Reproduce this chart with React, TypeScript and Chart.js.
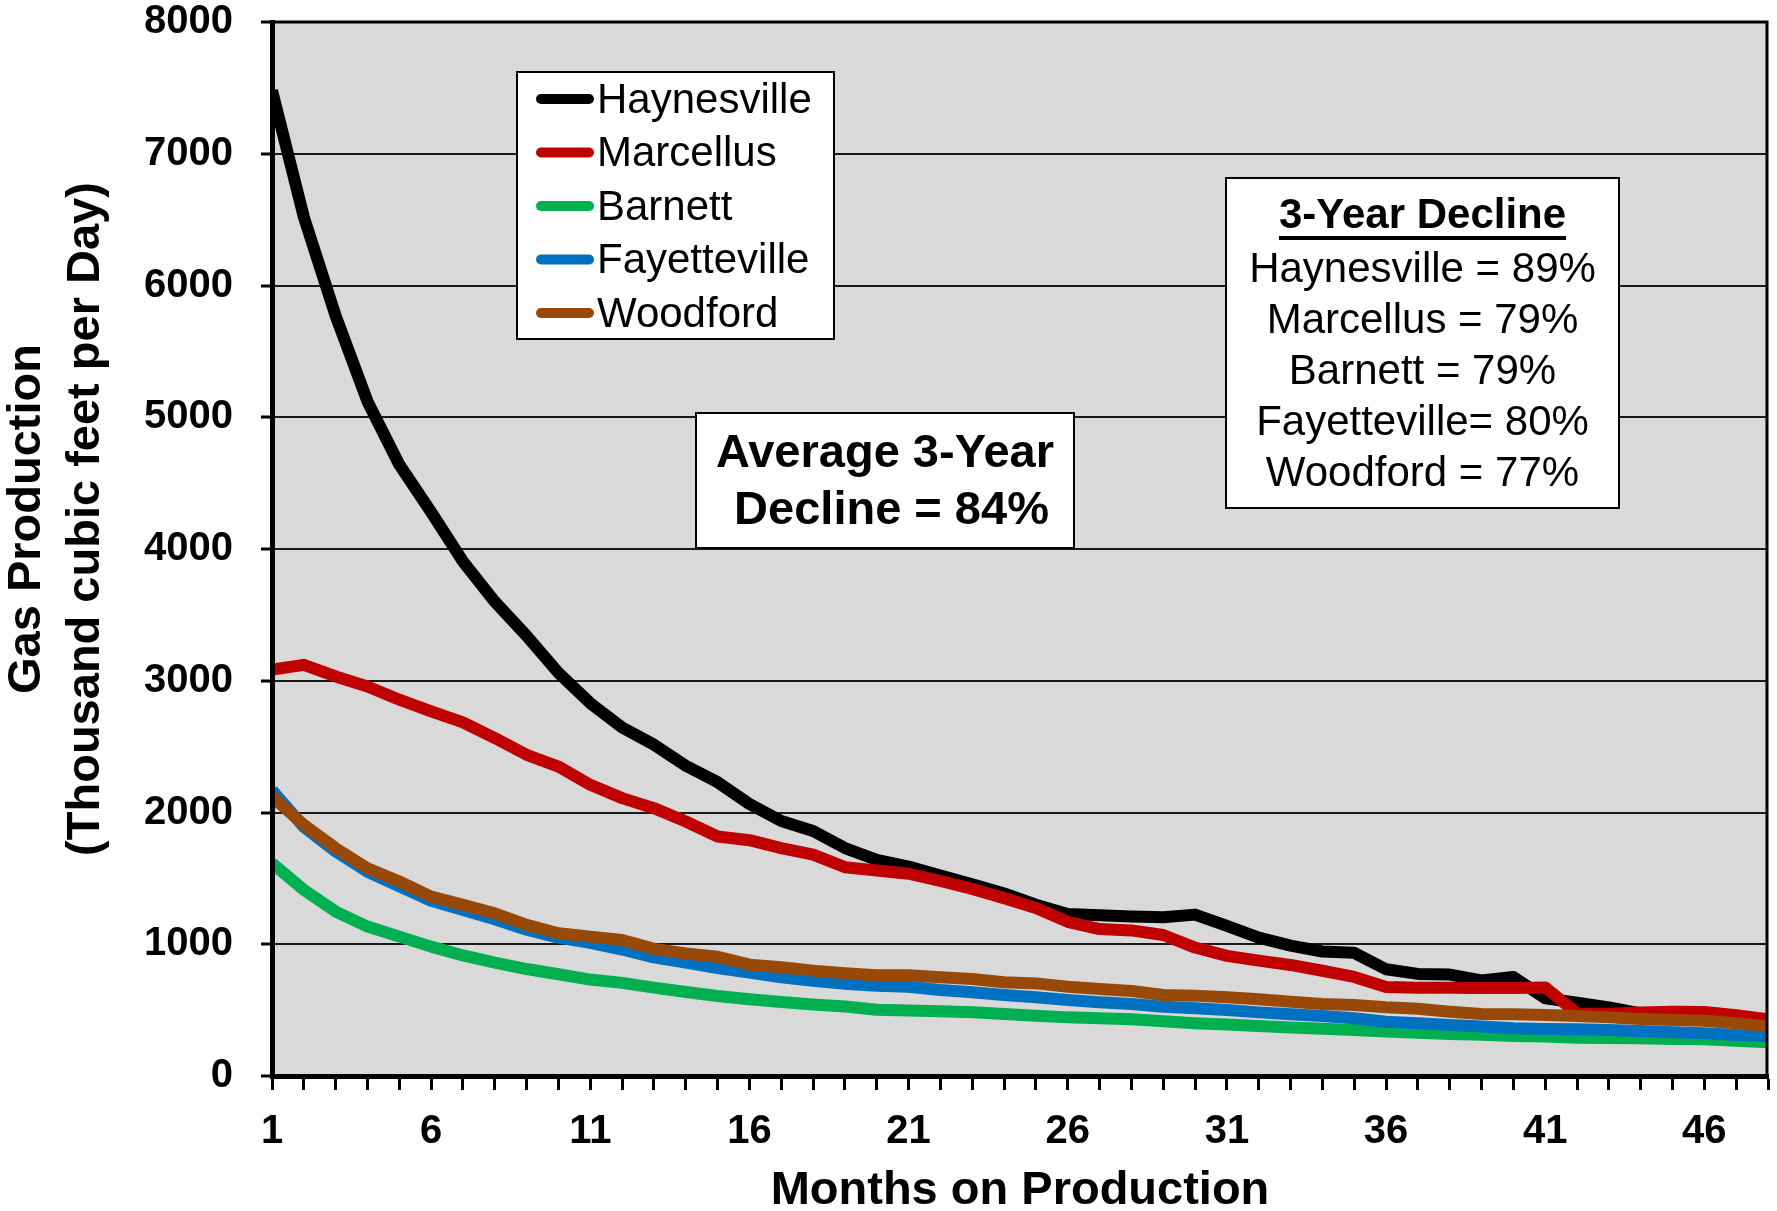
import React, { useEffect, useRef } from 'react';
import { Chart, registerables } from 'chart.js';

Chart.register(...registerables);

const FONT = "'Liberation Sans', Arial, Helvetica, sans-serif";

const months = [
  '1', '2', '3', '4', '5', '6', '7', '8', '9', '10',
  '11', '12', '13', '14', '15', '16', '17', '18', '19', '20',
  '21', '22', '23', '24', '25', '26', '27', '28', '29', '30',
  '31', '32', '33', '34', '35', '36', '37', '38', '39', '40',
  '41', '42', '43', '44', '45', '46', '47', '48',
];
const labeledMonths = ['1', '6', '11', '16', '21', '26', '31', '36', '41', '46'];

const seriesNames = ['Haynesville', 'Marcellus', 'Barnett', 'Fayetteville', 'Woodford'];
const seriesColors = ['#000000', '#C00000', '#00B050', '#0070C0', '#984807'];

const haynesville = [
  7480, 6520, 5770, 5120, 4640, 4280, 3905, 3600, 3340, 3060,
  2830, 2645, 2515, 2355, 2230, 2065, 1935, 1860, 1730, 1640,
  1590, 1521, 1456, 1385, 1300, 1230, 1220, 1210, 1205, 1225,
  1140, 1050, 990, 945, 935, 810, 775, 770, 725, 752,
  590, 557, 520, 475, 455, 440, 425, 400,
];
const marcellus = [
  3084, 3121, 3033, 2957, 2856, 2767, 2684, 2565, 2438, 2349,
  2210, 2109, 2033, 1932, 1818, 1790, 1730, 1680, 1585, 1560,
  1535, 1480, 1420, 1350, 1275, 1170, 1115, 1105, 1070, 975,
  912, 876, 843, 799, 752, 675, 670, 670, 668, 668,
  672, 475, 472, 482, 488, 486, 462, 430,
];
const barnett = [
  1615, 1413, 1248, 1134, 1058, 982, 915, 860, 812, 772,
  732, 707, 671, 638, 607, 582, 561, 543, 528, 503,
  498, 492, 483, 470, 458, 445, 438, 430, 415, 400,
  390, 380, 369, 359, 349, 337, 329, 319, 314, 304,
  299, 291, 288, 286, 281, 278, 268, 256,
];
const fayetteville = [
  2170, 1890, 1705, 1550, 1440, 1330, 1260, 1190, 1110, 1050,
  1010, 960, 900, 860, 820, 785, 750, 722, 700, 685,
  678, 653, 635, 615, 597, 577, 560, 546, 526, 514,
  501, 483, 468, 455, 438, 412, 400, 387, 375, 362,
  357, 354, 349, 342, 332, 324, 311, 304,
];
const woodford = [
  2122, 1906, 1729, 1577, 1476, 1362, 1299, 1235, 1147, 1084,
  1058, 1033, 965, 930, 905, 845, 825, 800, 780, 765,
  765, 749, 736, 711, 703, 678, 660, 645, 615, 610,
  597, 582, 564, 546, 539, 521, 511, 488, 470, 468,
  463, 455, 445, 433, 425, 420, 400, 375,
];
const seriesValues = [haynesville, marcellus, barnett, fayetteville, woodford];

const yTitleLines = ['Gas Production', '(Thousand cubic feet per Day)'];
const xTitle = 'Months on Production';
const averageBoxLines = ['Average 3-Year', ' Decline = 84%'];
const declineTitle = '3-Year Decline';
const declineLines = [
  'Haynesville = 89%',
  'Marcellus = 79%',
  'Barnett = 79%',
  'Fayetteville= 80%',
  'Woodford = 77%',
];

function drawBox(ctx: CanvasRenderingContext2D, x: number, y: number, w: number, h: number) {
  ctx.fillStyle = '#ffffff';
  ctx.fillRect(x, y, w, h);
  ctx.strokeStyle = '#000000';
  ctx.lineWidth = 2;
  ctx.strokeRect(x, y, w, h);
}

const decorPlugin = {
  id: 'decor',
  beforeDraw(chart: any) {
    const { ctx, chartArea: a, width, height } = chart;
    ctx.save();
    ctx.fillStyle = '#ffffff';
    ctx.fillRect(0, 0, width, height);
    ctx.fillStyle = '#D9D9D9';
    ctx.fillRect(a.left, a.top, a.right - a.left, a.bottom - a.top);
    ctx.restore();
  },
  afterDraw(chart: any) {
    const { ctx, chartArea: a } = chart;
    ctx.save();
    // right and top frame
    ctx.strokeStyle = '#000000';
    ctx.lineWidth = 3;
    ctx.beginPath();
    ctx.moveTo(a.left, a.top);
    ctx.lineTo(a.right - 1, a.top);
    ctx.lineTo(a.right - 1, a.bottom);
    ctx.stroke();

    // y axis title (two lines, rotated)
    ctx.fillStyle = '#000000';
    ctx.font = `bold 47px ${FONT}`;
    ctx.textAlign = 'center';
    ctx.textBaseline = 'middle';
    const yc = a.top + 497;
    [27, 86].forEach((x, i) => {
      ctx.save();
      ctx.translate(x, yc);
      ctx.rotate(-Math.PI / 2);
      ctx.fillText(yTitleLines[i], 0, 0);
      ctx.restore();
    });

    // legend
    const LL = a.left + 245;
    const LT = a.top + 50;
    drawBox(ctx, LL, LT, 317, 267);
    chart.data.datasets.forEach((ds: any, i: number) => {
      const cy = LT + 27 + i * 53.5;
      ctx.strokeStyle = ds.borderColor;
      ctx.lineWidth = 10;
      ctx.lineCap = 'round';
      ctx.beginPath();
      ctx.moveTo(LL + 24, cy);
      ctx.lineTo(LL + 72, cy);
      ctx.stroke();
      ctx.fillStyle = '#000000';
      ctx.font = `42px ${FONT}`;
      ctx.textAlign = 'left';
      ctx.textBaseline = 'middle';
      ctx.fillText(ds.label, LL + 80, cy + 2);
    });

    // average box
    const AL = a.left + 424;
    const AT = a.top + 391;
    const AW = 378;
    drawBox(ctx, AL, AT, AW, 135);
    ctx.fillStyle = '#000000';
    ctx.font = `bold 47px ${FONT}`;
    ctx.textAlign = 'center';
    ctx.textBaseline = 'middle';
    ctx.fillText(averageBoxLines[0], AL + AW / 2, AT + 41);
    ctx.fillText(averageBoxLines[1], AL + AW / 2, AT + 98);

    // 3-year decline box
    const DL = a.left + 954;
    const DT = a.top + 156;
    const DW = 393;
    drawBox(ctx, DL, DT, DW, 330);
    const cx = DL + DW / 2;
    ctx.fillStyle = '#000000';
    ctx.font = `bold 42px ${FONT}`;
    ctx.textAlign = 'center';
    ctx.textBaseline = 'middle';
    ctx.fillText(declineTitle, cx, DT + 38);
    const tw = ctx.measureText(declineTitle).width;
    ctx.fillRect(cx - tw / 2, DT + 58, tw, 4);
    ctx.font = `42px ${FONT}`;
    declineLines.forEach((t, i) => {
      ctx.fillText(t, cx, DT + 92 + i * 51);
    });
    ctx.restore();
  },
};

export default function App() {
  const canvasRef = useRef<HTMLCanvasElement | null>(null);

  useEffect(() => {
    document.body.style.margin = '0';
    const canvas = canvasRef.current;
    if (!canvas) return;
    const tickFont = { family: FONT, size: 40, weight: 'bold' as const, lineHeight: 1 };
    const chart = new Chart(canvas, {
      type: 'line',
      data: {
        labels: months,
        datasets: seriesNames.map((name, i) => ({
          label: name,
          data: seriesValues[i],
          borderColor: seriesColors[i],
          backgroundColor: seriesColors[i],
          borderWidth: 12,
          pointRadius: 0,
          tension: 0,
          fill: false,
          borderJoinStyle: 'round' as const,
          borderCapStyle: 'butt' as const,
          order: seriesNames.length - i,
          clip: 0,
        })),
      },
      options: {
        responsive: false,
        animation: false,
        devicePixelRatio: 1,
        layout: { padding: { left: 0, right: 9, top: 22, bottom: 0 } },
        plugins: { legend: { display: false }, tooltip: { enabled: false } },
        scales: {
          x: {
            type: 'category',
            offset: false,
            grid: {
              display: true,
              drawOnChartArea: false,
              drawTicks: true,
              tickLength: 14,
              tickColor: '#000000',
              tickWidth: 3,
            },
            border: { display: true, color: '#000000', width: 5, z: 1 },
            ticks: {
              autoSkip: false,
              maxRotation: 0,
              minRotation: 0,
              padding: 22,
              color: '#000000',
              font: tickFont,
              callback: (_v: any, i: number) => (labeledMonths.includes(months[i]) ? months[i] : ''),
            },
            title: {
              display: true,
              text: xTitle,
              color: '#000000',
              font: { family: FONT, size: 47, weight: 'bold', lineHeight: 0.83 },
              padding: 0,
            },
            afterFit: (s: any) => {
              s.height = 135;
              s.paddingLeft = 0;
              s.paddingRight = 0;
            },
          },
          y: {
            min: 0,
            max: 8000,
            ticks: {
              stepSize: 1000,
              padding: 28,
              color: '#000000',
              font: tickFont,
              callback: (v: any) => String(v),
            },
            grid: {
              color: '#1a1a1a',
              lineWidth: 2,
              drawTicks: true,
              tickLength: 11,
              tickColor: '#000000',
              tickWidth: 3,
            },
            border: { display: true, color: '#000000', width: 5, z: 1 },
            afterFit: (s: any) => {
              s.width = 272;
              s.paddingTop = 0;
              s.paddingBottom = 0;
            },
          },
        },
      },
      plugins: [decorPlugin],
    } as any);
    return () => chart.destroy();
  }, []);

  return (
    <div style={{ position: 'fixed', left: 0, top: 0, width: 1777, height: 1211, background: '#ffffff' }}>
      <canvas ref={canvasRef} width={1777} height={1211} style={{ display: 'block', width: 1777, height: 1211 }} />
    </div>
  );
}
